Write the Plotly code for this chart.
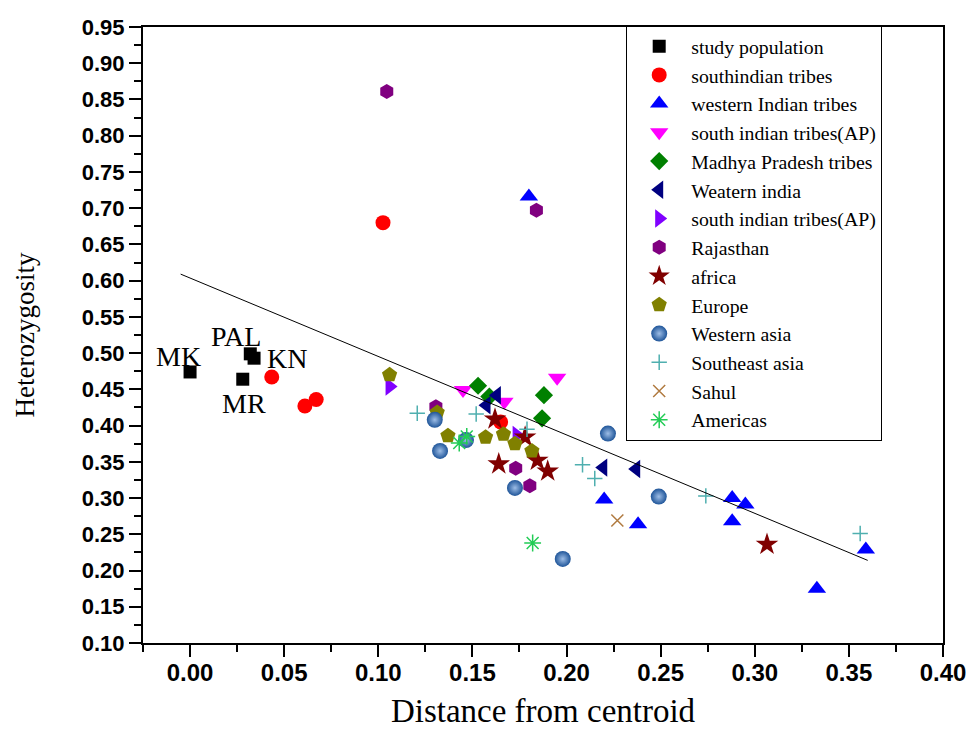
import plotly.graph_objects as go

# ---- data ----
study_x = [0.000, 0.028, 0.032, 0.034]
study_y = [0.474, 0.464, 0.499, 0.493]
study_labels = ["MK", "MR", "PAL", "KN"]

south_x = [0.1025, 0.0434, 0.061, 0.067, 0.165]
south_y = [0.680, 0.467, 0.427, 0.436, 0.405]

west_x = [0.180, 0.220, 0.238, 0.288, 0.295, 0.288, 0.359, 0.333]
west_y = [0.716, 0.298, 0.264, 0.300, 0.291, 0.268, 0.229, 0.175]

apdown_x = [0.145, 0.167, 0.195]
apdown_y = [0.449, 0.433, 0.466]

mp_x = [0.153, 0.159, 0.188, 0.187]
mp_y = [0.455, 0.440, 0.442, 0.410]

wind_x = [0.163, 0.1575, 0.2195, 0.237]
wind_y = [0.442, 0.428, 0.342, 0.340]

apright_x = [0.106, 0.1735]
apright_y = [0.454, 0.387]

raj_x = [0.1045, 0.184, 0.1306, 0.173, 0.1805]
raj_y = [0.861, 0.697, 0.426, 0.341, 0.317]

afr_x = [0.162, 0.178, 0.164, 0.1845, 0.190, 0.3065]
afr_y = [0.409, 0.384, 0.347, 0.352, 0.337, 0.236]

eur_x = [0.106, 0.1313, 0.137, 0.157, 0.1665, 0.1726, 0.1816]
eur_y = [0.470, 0.418, 0.386, 0.384, 0.388, 0.375, 0.365]

wasia_x = [0.130, 0.1328, 0.1466, 0.1726, 0.222, 0.198, 0.249]
wasia_y = [0.408, 0.365, 0.380, 0.314, 0.389, 0.216, 0.302]

seasia_x = [0.1207, 0.152, 0.179, 0.2085, 0.215, 0.274, 0.356]
seasia_y = [0.417, 0.416, 0.395, 0.346, 0.327, 0.303, 0.251]

sahul_x = [0.227]
sahul_y = [0.269]

amer_x = [0.147, 0.143, 0.182]
amer_y = [0.385, 0.376, 0.238]

fit_x = [-0.005, 0.360]
fit_y = [0.609, 0.214]

x_ticks = [0.00, 0.05, 0.10, 0.15, 0.20, 0.25, 0.30, 0.35, 0.40]
x_ticklabels = ["0.00", "0.05", "0.10", "0.15", "0.20", "0.25", "0.30", "0.35", "0.40"]
y_ticks = [0.10, 0.15, 0.20, 0.25, 0.30, 0.35, 0.40, 0.45, 0.50,
           0.55, 0.60, 0.65, 0.70, 0.75, 0.80, 0.85, 0.90, 0.95]
y_ticklabels = ["%.2f" % v for v in y_ticks]

# ---- styles ----
series = [
    ("study population", study_x, study_y, "square", 13, "black", None),
    ("southindian tribes", south_x, south_y, "circle", 15, "#FF0000", None),
    ("western Indian tribes", west_x, west_y, "triangle-up", 16, "#0000FF", None),
    ("south indian tribes(AP)", apdown_x, apdown_y, "triangle-down", 16, "#FF00FF", None),
    ("Madhya Pradesh tribes", mp_x, mp_y, "diamond", 14, "#008000", None),
    ("Weatern india", wind_x, wind_y, "triangle-left", 16, "#000080", None),
    ("south indian tribes(AP)", apright_x, apright_y, "triangle-right", 16, "#8000FF", None),
    ("Rajasthan", raj_x, raj_y, "hexagon", 15, "#800080", None),
    ("africa", afr_x, afr_y, "star", 17, "#800000", None),
    ("Europe", eur_x, eur_y, "pentagon", 16, "#808000", None),
    ("Western asia", wasia_x, wasia_y, "circle", 16, "#1F5599", "gradient"),
    ("Southeast asia", seasia_x, seasia_y, "cross-thin", 11, "#4FAFAF", "thin"),
    ("Sahul", sahul_x, sahul_y, "x-thin", 12, "#B07A40", "thin"),
    ("Americas", amer_x, amer_y, "asterisk", 14, "#22CC55", "thin"),
]

fig = go.Figure()
for name, xs, ys, sym, size, color, kind in series:
    marker = dict(symbol=sym, size=size, color=color, line=dict(width=0))
    if kind == "thin":
        marker["line"] = dict(width=1.5, color=color)
    elif kind == "gradient":
        marker["gradient"] = dict(type="radial", color="#9DBDE6")
    fig.add_trace(go.Scatter(x=xs, y=ys, mode="markers", name=name, marker=marker))

fig.add_trace(go.Scatter(x=fit_x, y=fit_y, mode="lines", showlegend=False,
                         line=dict(color="black", width=1)))

label_shift = {"MK": (-12, 15), "MR": (1, -24), "PAL": (-14, 17), "KN": (33, 0)}
for lx, ly, lab in zip(study_x, study_y, study_labels):
    dx, dy = label_shift[lab]
    fig.add_annotation(x=lx, y=ly, text=lab, showarrow=False, xshift=dx, yshift=dy,
                       font=dict(family="Liberation Serif", size=28, color="black"))

axis_common = dict(showline=True, linewidth=2, linecolor="black", mirror=True,
                   ticks="outside", ticklen=12, tickwidth=2, tickcolor="black",
                   showgrid=False, zeroline=False, automargin=False)

fig.update_xaxes(**axis_common, range=[-0.025, 0.40], tickmode="array",
                 tickvals=x_ticks, ticktext=x_ticklabels, ticklabelstandoff=-5,
                 tickfont=dict(family="Liberation Sans", size=24, color="black", weight="bold"),
                 minor=dict(tick0=0, dtick=0.025, ticks="outside", ticklen=7, tickwidth=2,
                            tickcolor="black"),
                 title=dict(text="Distance from centroid", standoff=14,
                            font=dict(family="Liberation Serif", size=33, color="black")))
fig.update_yaxes(**axis_common, range=[0.10, 0.95], tickmode="array",
                 tickvals=y_ticks, ticktext=y_ticklabels,
                 tickfont=dict(family="Liberation Sans", size=22, color="black", weight="bold"),
                 minor=dict(tick0=0.1, dtick=0.025, ticks="outside", ticklen=7, tickwidth=2,
                            tickcolor="black"),
                 title=dict(text="Heterozygosity", standoff=39,
                            font=dict(family="Liberation Serif", size=27, color="black")))

fig.update_layout(
    template="none",
    width=969, height=741,
    margin=dict(l=143, r=26, t=27, b=98),
    plot_bgcolor="white", paper_bgcolor="white",
    legend=dict(x=0.604, y=1.002, xanchor="left", yanchor="top",
                bgcolor="white", bordercolor="black", borderwidth=1,
                font=dict(family="Liberation Serif", size=19.8, color="black"),
                itemwidth=54, tracegroupgap=0, maxheight=700),
)

fig.write_html("out.html", config={"displayModeBar": False},
               post_script="document.body.style.margin='0';document.body.style.overflow='hidden';")
